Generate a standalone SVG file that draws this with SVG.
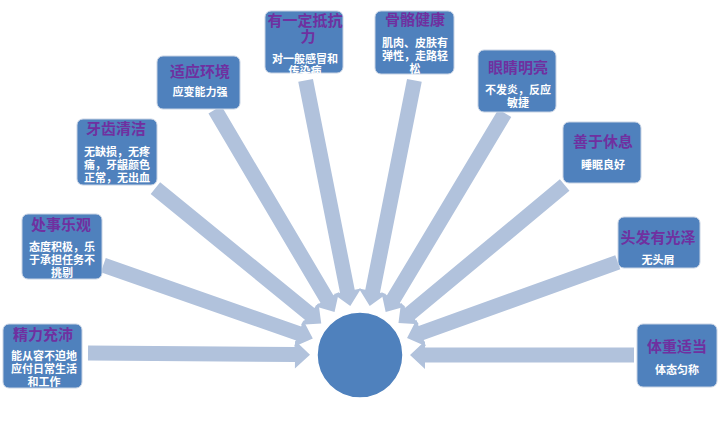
<svg xmlns="http://www.w3.org/2000/svg" width="720" height="426" viewBox="0 0 720 426">
<style>
.box{fill:#4F81BD;stroke:#C8D3E4;stroke-width:1}
.t{font-family:"Liberation Sans","Noto Sans CJK SC",sans-serif;font-size:15px;font-weight:bold;fill:#7030A0;text-anchor:middle}
.b{font-family:"Liberation Sans","Noto Sans CJK SC",sans-serif;font-size:11px;font-weight:bold;fill:#FFFFFF;text-anchor:middle}
.arr{fill:#B1C2DC}
</style>
<rect width="720" height="426" fill="#FFFFFF"/>
<g id="connectors" class="arr">
<polygon transform="translate(360 355) rotate(180.4)" points="272,-7.5 65,-7.5 65,-14 50,0 65,14 65,7.5 272,7.5"/>
<polygon transform="translate(360 355) rotate(199.3)" points="272,-7.5 65,-7.5 65,-14 50,0 65,14 65,7.5 272,7.5"/>
<polygon transform="translate(360 355) rotate(219.2)" points="264,-7.5 65,-7.5 65,-14 50,0 65,14 65,7.5 264,7.5"/>
<polygon transform="translate(360 355) rotate(239.4)" points="285,-7.5 65,-7.5 65,-14 50,0 65,14 65,7.5 285,7.5"/>
<polygon transform="translate(360 355) rotate(258.8)" points="280,-7.5 65,-7.5 65,-14 50,0 65,14 65,7.5 280,7.5"/>
<polygon transform="translate(360 355) rotate(281.2)" points="280,-7.5 65,-7.5 65,-14 50,0 65,14 65,7.5 280,7.5"/>
<polygon transform="translate(360 355) rotate(300.9)" points="282,-7.5 65,-7.5 65,-14 50,0 65,14 65,7.5 282,7.5"/>
<polygon transform="translate(360 355) rotate(320.3)" points="266,-7.5 65,-7.5 65,-14 50,0 65,14 65,7.5 266,7.5"/>
<polygon transform="translate(360 355) rotate(340.2)" points="274,-7.5 65,-7.5 65,-14 50,0 65,14 65,7.5 274,7.5"/>
<polygon transform="translate(360 355) rotate(0)" points="274,-7.5 65,-7.5 65,-14 50,0 65,14 65,7.5 274,7.5"/>
</g>
<g id="center">
<circle cx="360" cy="355" r="43" fill="#4F81BD" stroke="#FFFFFF" stroke-width="1.5"/>
</g>
<g id="n1">
<rect class="box" x="3" y="324" width="79" height="64" rx="6"/>
<text class="t" x="43" y="340">精力充沛</text>
<text class="b" x="44" y="360">能从容不迫地</text>
<text class="b" x="44" y="373">应付日常生活</text>
<text class="b" x="44" y="386">和工作</text>
</g>
<g id="n2">
<rect class="box" x="22" y="214" width="80" height="65" rx="6"/>
<text class="t" x="61" y="230">处事乐观</text>
<text class="b" x="62" y="251">态度积极，乐</text>
<text class="b" x="62" y="264">于承担任务不</text>
<text class="b" x="62" y="277">挑剔</text>
</g>
<g id="n3">
<rect class="box" x="77" y="119" width="80" height="66" rx="6"/>
<text class="t" x="116" y="134">牙齿清洁</text>
<text class="b" x="117" y="156">无缺损，无疼</text>
<text class="b" x="117" y="169">痛，牙龈颜色</text>
<text class="b" x="117" y="182">正常，无出血</text>
</g>
<g id="n4">
<rect class="box" x="157" y="56" width="83" height="53" rx="6"/>
<text class="t" x="200" y="77">适应环境</text>
<text class="b" x="200" y="96">应变能力强</text>
</g>
<g id="n5">
<rect class="box" x="265" y="11" width="78" height="62" rx="6"/>
<text class="t" x="305" y="26">有一定抵抗</text>
<text class="t" x="308" y="42">力</text>
<text class="b" x="305" y="63">对一般感冒和</text>
<text class="b" x="305" y="75">传染病</text>
</g>
<g id="n6">
<rect class="box" x="375" y="11" width="79" height="63" rx="6"/>
<text class="t" x="415" y="25">骨骼健康</text>
<text class="b" x="415" y="47">肌肉、皮肤有</text>
<text class="b" x="415" y="60">弹性，走路轻</text>
<text class="b" x="415" y="73">松</text>
</g>
<g id="n7">
<rect class="box" x="478" y="50" width="78" height="62" rx="6"/>
<text class="t" x="518" y="73">眼睛明亮</text>
<text class="b" x="518" y="94">不发炎，反应</text>
<text class="b" x="518" y="107">敏捷</text>
</g>
<g id="n8">
<rect class="box" x="563" y="122" width="78" height="61" rx="6"/>
<text class="t" x="603" y="147">善于休息</text>
<text class="b" x="603" y="169">睡眠良好</text>
</g>
<g id="n9">
<rect class="box" x="618" y="217" width="82" height="51" rx="6"/>
<text class="t" x="658" y="243">头发有光泽</text>
<text class="b" x="658" y="264">无头屑</text>
</g>
<g id="n10">
<rect class="box" x="637" y="324" width="80" height="63" rx="6"/>
<text class="t" x="677" y="352">体重适当</text>
<text class="b" x="677" y="374">体态匀称</text>
</g>
</svg>
